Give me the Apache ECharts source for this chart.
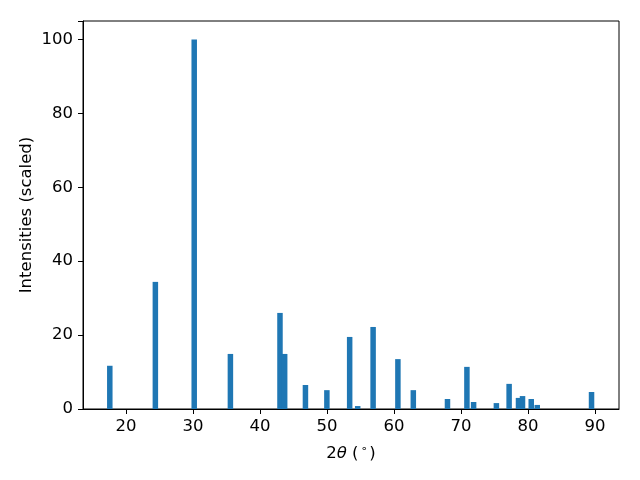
<!DOCTYPE html>
<html>
<head>
<meta charset="utf-8">
<script src="https://cdn.jsdelivr.net/npm/echarts@6/dist/echarts.min.js"></script>
<style>html,body{margin:0;padding:0;background:#fff}#c{width:640px;height:480px}</style>
</head>
<body>
<div id="c"></div>
<script>
const twoTheta = [17.6, 24.4, 30.2, 35.6, 43.0, 43.7, 46.8, 50.0, 53.4, 54.6, 56.9, 60.6, 62.9, 68.0, 70.9, 71.9, 75.3, 77.2, 78.6, 79.2, 80.5, 81.4, 89.5];
const intensities = [11.7, 34.4, 100, 14.9, 26.0, 14.9, 6.5, 5.1, 19.5, 0.8, 22.2, 13.5, 5.1, 2.7, 11.4, 1.9, 1.6, 6.8, 3.0, 3.5, 2.7, 1.1, 4.6];
const xTicks = [20, 30, 40, 50, 60, 70, 80, 90];
const yTicks = [0, 20, 40, 60, 80, 100];

const font = 'DejaVu Sans';
const fs = 16.5;
const chart = echarts.init(document.getElementById('c'), null, {renderer: 'canvas'});
chart.setOption({
  animation: false,
  backgroundColor: '#fff',
  grid: {left: 83, right: 21, top: 21, bottom: 71, show: true, borderColor: '#000', borderWidth: 1, backgroundColor: 'transparent'},
  xAxis: {
    type: 'value', min: 13.6, max: 93.6,
    axisLine: {show: true, lineStyle: {color: '#000', width: 1}},
    axisTick: {show: true, length: 5, lineStyle: {color: '#000'}, customValues: xTicks},
    axisLabel: {color: '#000', fontFamily: font, fontSize: fs, margin: 9, customValues: xTicks},
    splitLine: {show: false},
    name: '{a|2}{b|θ}{a| (}{s|∘}{a|)}',
    nameLocation: 'middle', nameGap: 35, nameMoveOverlap: false,
    nameTextStyle: {
      rich: {
        a: {fontFamily: font, fontSize: fs, color: '#000'},
        b: {fontFamily: font, fontSize: fs, color: '#000', fontStyle: 'italic'},
        s: {fontFamily: font, fontSize: 11, color: '#000', verticalAlign: 'top', padding: [0, 2, 8, 2]}
      }
    }
  },
  yAxis: {
    type: 'value', min: 0, max: 105, interval: 20,
    axisLine: {show: true, lineStyle: {color: '#000', width: 1}},
    axisTick: {show: true, length: 5, lineStyle: {color: '#000'}},
    axisLabel: {color: '#000', fontFamily: font, fontSize: fs, margin: 10, customValues: yTicks},
    splitLine: {show: false},
    name: 'Intensities (scaled)',
    nameLocation: 'middle', nameGap: 48, nameMoveOverlap: false,
    nameTextStyle: {fontFamily: font, fontSize: fs, color: '#000'}
  },
  series: [{
    type: 'bar',
    data: twoTheta.map((x, i) => [x, intensities[i]]),
    barWidth: 5.5,
    itemStyle: {color: '#1f77b4'},
    silent: true
  }]
});
</script>
</body>
</html>
